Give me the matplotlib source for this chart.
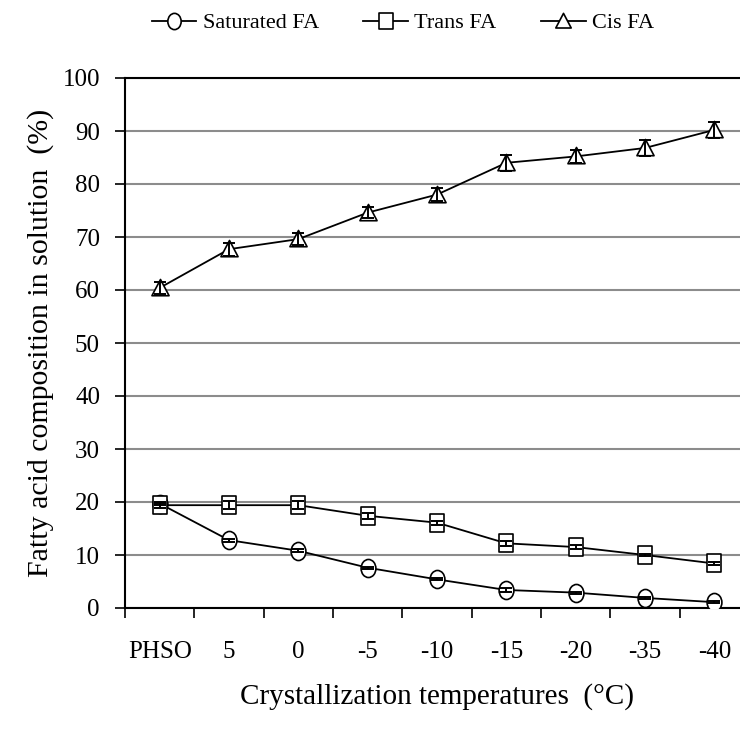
import matplotlib.pyplot as plt
import numpy as np
from matplotlib.path import Path
from matplotlib.transforms import Affine2D

temps = ['PHSO', '5', '0', '-5', '-10', '-15', '-20', '-35', '-40']
saturated = [19.7, 12.8, 10.8, 7.6, 5.4, 3.4, 2.9, 1.9, 1.1]
saturated_err = [0.3, 0.3, 0.3, 0.2, 0.2, 0.3, 0.2, 0.2, 0.2]
trans = [19.4, 19.4, 19.4, 17.4, 16.1, 12.2, 11.5, 10.0, 8.4]
trans_err = [0.5, 0.8, 0.8, 0.6, 0.4, 0.5, 0.3, 0.2, 0.3]
cis = [60.4, 67.7, 69.6, 74.6, 78.0, 84.0, 85.2, 86.8, 90.2]
cis_err = [1.1, 1.2, 1.2, 1.1, 1.3, 1.5, 1.3, 1.5, 1.5]

plt.rcParams['font.family'] = ['Liberation Serif', 'DejaVu Serif']

# slightly tall markers, like the original
squash = Affine2D().scale(0.82, 1.0)
m_circle = squash.transform_path(Path.unit_circle())
m_square = squash.transform_path(Path([(-1, -1), (1, -1), (1, 1), (-1, 1), (-1, -1)],
                                      [1, 2, 2, 2, 79]))
m_tri = Affine2D().scale(0.95, 1.0).transform_path(
    Path([(0, 1), (-1, -0.8), (1, -0.8), (0, 1)], [1, 2, 2, 79]))

fig = plt.figure(figsize=(7.4, 7.38), dpi=100)
ax = fig.add_axes([125 / 740, 130 / 738, 624 / 740, 530 / 738])

x = np.arange(len(temps))
series = [(saturated, saturated_err, m_circle, 'Saturated FA'),
          (trans, trans_err, m_square, 'Trans FA'),
          (cis, cis_err, m_tri, 'Cis FA')]
for vals, errs, mk, lab in series:
    ax.plot(x, vals, color='black', lw=1.3, marker=mk, ms=13, mfc='white',
            mec='black', mew=1.2, label=lab, zorder=3)
    ax.errorbar(x, vals, yerr=errs, fmt='none', ecolor='black', elinewidth=1.4,
                capsize=4.5, capthick=1.4, zorder=4)

ax.set_xlim(-0.5, 8.5)
ax.set_ylim(0, 100)
ax.set_yticks(range(0, 101, 10))
ax.yaxis.grid(True, color='#8c8c8c', lw=1.5)
ax.set_axisbelow(True)

ax.set_xticks(x)
ax.set_xticklabels(temps)
ax.set_xticks(np.arange(-0.5, 8.6, 1), minor=True)
ax.tick_params(axis='x', which='major', length=0, pad=24, labelsize=18)
ax.tick_params(axis='x', which='minor', length=7, width=1.2, direction='out')
ax.tick_params(axis='y', length=7, width=1.2, direction='out', pad=11, labelsize=18)

for s in ['left', 'bottom', 'top']:
    ax.spines[s].set_linewidth(1.5)
ax.spines['right'].set_visible(False)

ax.set_xlabel('Crystallization temperatures  (°C)', fontsize=21, labelpad=14)
ax.set_ylabel('Fatty acid composition in solution  (%)', fontsize=21.5, labelpad=6)

ax.legend(loc='center', bbox_to_anchor=(403 / 740, 1 - 23 / 738), bbox_transform=fig.transFigure,
          ncol=3, frameon=False, prop={'family': 'Liberation Serif', 'size': 16},
          handlelength=2.0, handletextpad=0.3, columnspacing=2.0, borderpad=0,
          markerscale=0.9)

fig.savefig('out.png', dpi=100)
